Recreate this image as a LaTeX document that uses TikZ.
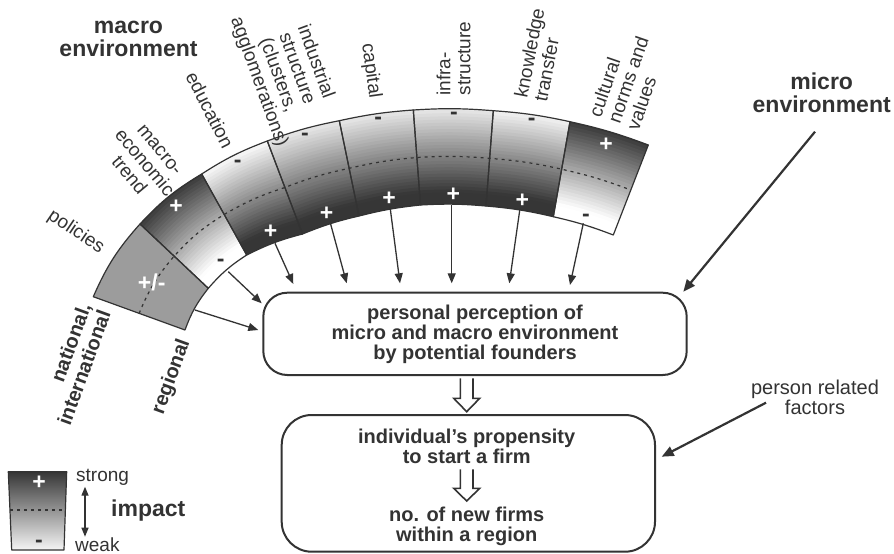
\documentclass[tikz,border=0pt]{standalone}
\usepackage{fontspec}
\setmainfont{Liberation Sans}
\usetikzlibrary{arrows.meta,calc}
\definecolor{ink}{HTML}{333333}
\definecolor{dk}{HTML}{363636}
\definecolor{lg}{HTML}{EDEDED}
\definecolor{lt}{HTML}{F8F8F8}
\definecolor{midg}{HTML}{9C9C9C}
\newcommand\shadeseg[5]{%
  \begin{scope}
    \clip (o#1) to[bend left=#5] (o#2) -- (i#2) to[bend right=#5] (i#1) -- cycle;
    \foreach \kk in {0,...,29}{
      \pgfmathsetmacro\ta{\kk/30-0.02}
      \pgfmathsetmacro\tb{(\kk+1)/30+0.02}
      \pgfmathsetmacro\pc{min(100,100*(\kk+0.5)/30*1.12)}
      \fill[#4!\pc!#3] ($(o#1)!\ta!(i#1)$) to[bend left=#5] ($(o#2)!\ta!(i#2)$)
        -- ($(o#2)!\tb!(i#2)$) to[bend right=#5] ($(o#1)!\tb!(i#1)$) -- cycle;
    }
  \end{scope}}
\begin{document}
\begin{tikzpicture}[x=1pt,y=-1pt,
  segline/.style={draw=ink,line width=1.2pt,line join=round},
  feed/.style={draw=ink,line width=1.3pt,-{Triangle[length=10pt,width=8pt]}},
  bigfeed/.style={draw=ink,line width=2.2pt,-{Triangle[length=12pt,width=10pt]}},
  boxstyle/.style={draw=ink,line width=2pt,inner sep=0pt},
  lab/.style={text=ink,font=\fontsize{19}{20}\selectfont,align=center,inner sep=0pt},
  blab/.style={text=ink,font=\fontsize{20}{21}\selectfont\bfseries,align=center,inner sep=0pt},
  titlelab/.style={text=ink,font=\fontsize{23}{23.5}\selectfont\bfseries,align=center,inner sep=0pt},
  boxtext/.style={text=ink,font=\fontsize{20}{20}\selectfont\bfseries,align=center,inner sep=0pt},
  plus/.style={text=white,font=\fontsize{23}{23}\selectfont\bfseries,inner sep=0pt},
  minus/.style={text=ink,font=\fontsize{23}{23}\selectfont\bfseries,inner sep=0pt},
  midline/.style={draw=ink,line width=1.2pt,dash pattern=on 3pt off 4pt},
  hollow/.style={draw=ink,line width=1.6pt,fill=white,line join=miter},
]
\useasboundingbox (0,0) rectangle (894,554);
\fill[white] (0,0) rectangle (894,554);

% ring divider coordinates (outer / inner)
\coordinate (o0) at (93.3,296.7);  \coordinate (i0) at (185,330);
\coordinate (o1) at (140,224);     \coordinate (i1) at (208.3,288.3);
\coordinate (o2) at (201.7,174);   \coordinate (i2) at (246.7,255);
\coordinate (o3) at (267.3,141);   \coordinate (i3) at (302.5,234);
\coordinate (o4) at (339.3,120.7); \coordinate (i4) at (359,216);
\coordinate (o5) at (413.3,110);   \coordinate (i5) at (420.5,205);
\coordinate (o6) at (493.3,110.7); \coordinate (i6) at (486,206);
\coordinate (o7) at (570,121.7);   \coordinate (i7) at (553.3,216.7);
\coordinate (o8) at (648.3,145);   \coordinate (i8) at (613.3,235);
\foreach \kk in {0,...,8} \coordinate (m\kk) at ($(o\kk)!0.5!(i\kk)$);

% segment fills
\fill[midg] (o0) to[bend left=9] (o1) -- (i1) to[bend right=9] (i0) -- cycle;
\shadeseg{1}{2}{dk}{white}{8}
\shadeseg{2}{3}{white}{dk}{6}
\shadeseg{3}{4}{lg}{dk}{4.5}
\shadeseg{4}{5}{lg}{dk}{4}
\shadeseg{5}{6}{lg}{dk}{4}
\shadeseg{6}{7}{lt}{dk}{4}
\shadeseg{7}{8}{dk}{white}{4}

\draw[midline] (m0) to[bend left=9] (m1) to[bend left=8] (m2) to[bend left=6] (m3)
  to[bend left=4.5] (m4) to[bend left=4] (m5) to[bend left=4] (m6) to[bend left=4] (m7) to[bend left=4] (m8);

\foreach \sa/\sb/\sbend in {0/1/9,1/2/8,2/3/6,3/4/4.5,4/5/4,5/6/4,6/7/4,7/8/4}
  \draw[segline] (o\sa) to[bend left=\sbend] (o\sb) -- (i\sb) to[bend right=\sbend] (i\sa) -- cycle;

% signs
\node[plus] (spol) at (151.7,282.7) {+/-};
\node[plus] (smac1) at (176,206.7) {+};
\node[minus] (smac2) at (220.7,263.3) {-};
\node[minus] (sedu1) at (237.7,164) {-};
\node[plus] (sedu2) at (270.7,231.7) {+};
\node[minus] (sind1) at (305,136.7) {-};
\node[plus] (sind2) at (326.7,213.3) {+};
\node[minus] (scap1) at (378.3,120.7) {-};
\node[plus] (scap2) at (389,199) {+};
\node[minus] (sinf1) at (454,115.7) {-};
\node[plus] (sinf2) at (453.3,195) {+};
\node[minus] (skno1) at (531.7,122.3) {-};
\node[plus] (skno2) at (522.3,200.7) {+};
\node[plus] (scul1) at (606,145) {+};
\node[minus] (scul2) at (586,218.3) {-};

% labels of the ring
\node[lab,rotate=-34] (lpol) at (76,232) {policies};
\node[lab,rotate=-50] (lmac) at (144,163) {macro-\\economic\\trend};
\node[lab,rotate=-63] (ledu) at (210,110) {education};
\node[lab,rotate=-70] (lind) at (287,72) {industrial\\structure\\(clusters,\\agglomerations)};
\node[lab,rotate=-82] (lcap) at (370.8,70.8) {capital};
\node[lab,rotate=90,align=left] (linf) at (453.5,58.5) {infra-\\structure};
\node[lab,rotate=79,align=left] (lkno) at (539,55) {knowledge\\transfer};
\node[lab,rotate=71,align=left] (lcul) at (628,80) {cultural\\norms and\\values};
\node[blab,rotate=70,align=right] (lnat) at (74,364) {national,\\international};
\node[blab,rotate=70] (lreg) at (171.7,376.7) {regional};

\node[titlelab] (macro) at (128.5,39) {macro\\environment};
\node[titlelab] (micro) at (821.7,93) {micro\\environment};
\node[lab,font=\fontsize{20}{20}\selectfont] (person) at (815,397) {person related\\factors};

% boxes
\node[boxstyle,rounded corners=24pt,minimum width=423.4pt,minimum height=82.3pt] (perc) at (475,333.85) {};
\node[boxtext] (perctext) at (475,334) {personal perception of\\micro and macro environment\\by potential founders};
\node[boxstyle,rounded corners=30pt,minimum width=373.3pt,minimum height=136.7pt] (prop) at (468.35,483.35) {};
\node[boxtext] (t2a) at (466.7,446) {individual’s propensity\\to start a firm};
\node[boxtext] (t2b) at (466.7,526) {no. of new firms\\within a region};

% hollow arrows
\draw[hollow] (460.4,378.3) -- (460.4,398.3) -- (453.7,398.3) -- (466.7,411.7) -- (479.7,398.3) -- (473,398.3) -- (473,378.3);
\draw[hollow] (460.4,469.3) -- (460.4,488.3) -- (453.7,488.3) -- (466.7,501) -- (479.7,488.3) -- (473,488.3) -- (473,469.3);

% feed arrows from the ring to the perception box
\coordinate (a1s) at (195,310);     \coordinate (a1e) at (258.3,330);
\coordinate (a2s) at (228.3,271.7); \coordinate (a2e) at (261.7,303.3);
\coordinate (a3s) at (275,243.3);   \coordinate (a3e) at (293.3,284);
\coordinate (a4s) at (330,221.7);   \coordinate (a4e) at (346.7,283.3);
\coordinate (a5s) at (390,206.7);   \coordinate (a5e) at (400,283.3);
\coordinate (a6s) at (451.7,205);   \coordinate (a6e) at (451.7,283.3);
\coordinate (a7s) at (520,208.3);   \coordinate (a7e) at (509.3,283.3);
\coordinate (a8s) at (583.3,223.3); \coordinate (a8e) at (570,285);
\foreach \kk in {1,...,8} \draw[feed] (a\kk s) -- (a\kk e);

\coordinate (mics) at (815,131.7); \coordinate (mice) at (683.3,291.7);
\draw[bigfeed] (mics) -- (mice);
\coordinate (pers) at (766,402.7); \coordinate (pere) at (661.7,456.7);
\draw[bigfeed] (pers) -- (pere);

% legend
\coordinate (g1) at (8.3,471.7); \coordinate (g2) at (66.7,471.7);
\coordinate (g3) at (64,550);    \coordinate (g4) at (11.7,550);
\shade[top color=dk,bottom color=gray!8] (g1) -- (g2) -- (g3) -- (g4) -- cycle;
\draw[midline] (10,510) -- (65,510);
\draw[segline] (g1) -- (g2) -- (g3) -- (g4) -- cycle;
\node[plus] (lgp) at (39,483) {+};
\node[minus] (lgm) at (39,543.5) {-};
\coordinate (la1) at (85,486.7); \coordinate (la2) at (85,536.7);
\draw[draw=ink,line width=1.3pt,{Triangle[length=9pt,width=7pt]}-{Triangle[length=9pt,width=7pt]}] (la1) -- (la2);
\node[lab,anchor=base west] (strong) at (76,481.5) {strong};
\node[lab,anchor=base west] (weak) at (75,551) {weak};
\node[titlelab,anchor=base west] (impact) at (111,516.5) {impact};
\end{tikzpicture}
\end{document}
